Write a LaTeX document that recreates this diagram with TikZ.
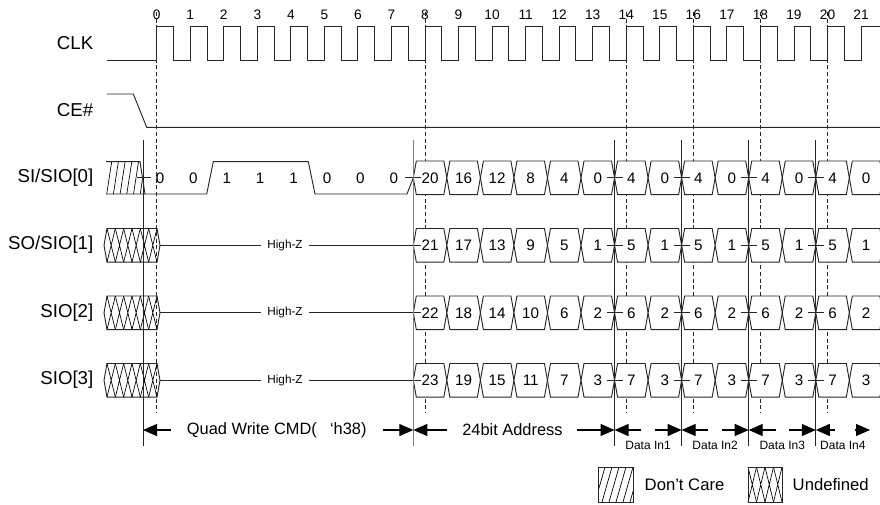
\documentclass[tikz,border=0pt]{standalone}
\usepackage{fontspec}
\setmainfont{Liberation Sans}
\usetikzlibrary{arrows.meta,calc}

\def\clkper{33.54}
\def\xzero{156.7}
\def\bzero{413.3}
\def\hh{16.8}

\tikzset{
 sig/.style={line width=0.7pt, black!85},
 edgeline/.style={line width=0.55pt, black!85, dash pattern=on 3pt off 2pt},
 bound/.style={line width=0.7pt, black!85},
 span/.style={line width=0.9pt, -{Triangle[length=10.5pt,width=9pt]}},
 lbl/.style={anchor=east, font=\fontsize{14}{16}\selectfont},
 clknum/.style={font=\fontsize{10.3}{12}\selectfont},
 cellnum/.style={font=\fontsize{11.4}{13}\selectfont},
 hiz/.style={font=\fontsize{8.8}{10}\selectfont, fill=white, inner xsep=5pt},
 note/.style={font=\fontsize{12.3}{14}\selectfont},
 small/.style={font=\fontsize{9}{10}\selectfont},
}

\newcommand{\buscell}[4]{% name, x0, ymid, label
\draw [sig, fill=white] (#2,#3) -- ++(3,-\hh) -- ++(27.54,0) -- ++(3,\hh) -- ++(-3,\hh) -- ++(-27.54,0) -- cycle;
\node [cellnum] (#1) at ($(#2,#3)+(16.77,0)$) {#4};
}

\begin{document}
\begin{tikzpicture}[x=0.75pt,y=-0.75pt]

\useasboundingbox (0,0) rectangle (880,504);
\clip (0,0) rectangle (880,504);

% clock edges
\foreach \k in {0,8,14,16,18,20}
{
\pgfmathsetmacro\ex{\xzero+\k*\clkper}
\draw [edgeline] (\ex,12) -- (\ex,413);
}
\foreach \k in {0,...,21}
{
\pgfmathsetmacro\ex{\xzero+\k*\clkper}
\node [clknum] (n\k) at (\ex,15) {\k};
}

\node [lbl] (clk) at (98,43) {CLK};
\node [lbl] (ce) at (98,110) {CE\#};
\node [lbl] (sio0) at (98,177.5) {SI/SIO[0]};
\node [lbl] (sio1) at (98,245) {SO/SIO[1]};
\node [lbl] (sio2) at (98,312.5) {SIO[2]};
\node [lbl] (sio3) at (98,380) {SIO[3]};

\draw [sig] (106.7,60.7) -- (\xzero,60.7)
\foreach \k in {0,...,20}
{ -- ({\xzero+\k*\clkper},26.7) -- ({\xzero+(\k+0.5)*\clkper},26.7) -- ({\xzero+(\k+0.5)*\clkper},60.7) -- ({\xzero+(\k+1)*\clkper},60.7) }
-- ({\xzero+21*\clkper},26.7) -- (880,26.7);

\draw [sig] (106.7,94) -- (133.3,94) -- (146.7,127.3) -- (880,127.3);

% SI: don't care, then command bits
\begin{scope}
\clip (106,161.7) -- (140,161.7) -- (145,194) -- (106,194) -- cycle;
\foreach \x in {100,106.7,...,150}
{
\draw [line width=0.5pt] (\x,194) -- (\x+5,161.7);
}
\end{scope}
\draw [sig] (106,161.7) -- (140,161.7) -- (145,194) -- (106,194);
\draw [sig] (145,194) -- (206.7,194) -- (213.3,161.7) -- (308.3,161.7) -- (315,194) -- (407,194) -- (413.3,177.8);
\draw [sig] (137,177.8) -- (151,177.8);
\foreach \bitv [count=\k from 0] in {0,0,1,1,1,0,0,0}
{
\pgfmathsetmacro\bx{160+\k*33.4}
\node [cellnum] (bit\k) at (\bx,177.8) {\bitv};
}

% SO, SIO2, SIO3: undefined, then High-Z
\foreach \r in {1,2,3}
{
\pgfmathsetmacro\ym{177.8+67.5*\r}
\pgfmathsetmacro\yt{\ym-\hh}
\pgfmathsetmacro\yb{\ym+\hh}
\draw [sig] (104,\ym) -- (107,\yt) -- (157,\yt) -- (160,\ym) -- (157,\yb) -- (107,\yb) -- cycle;
\foreach \x in {107,115.33,...,150}
{
\pgfmathsetmacro\xr{\x+8.33}
\draw [line width=0.5pt] (\x,\yt) -- (\xr,\yb) (\xr,\yt) -- (\x,\yb);
}
\draw [sig] (160,\ym) -- (\bzero,\ym);
\node [hiz] (hz\r) at (285,\ym) {High-Z};
}

% address and data cells
\foreach \r in {0,...,3}
{
\pgfmathsetmacro\ym{177.8+67.5*\r}
\foreach \j in {0,...,13}
{
\pgfmathsetmacro\cx{\bzero+\j*\clkper}
\pgfmathtruncatemacro\cval{\j<6 ? 20-4*\j+\r : mod(\j+1,2)*4+\r}
\buscell{c\r-\j}{\cx}{\ym}{\cval}
}
\foreach \j in {0,6,8,10,12}
{
\pgfmathsetmacro\tx{\bzero+\j*\clkper-8}
\draw [sig] (\tx,\ym) -- ++(16,0);
}
}

% phase boundaries
\draw [bound] (143,140) -- (143,446);
\draw [bound, gray] (\bzero,140) -- (\bzero,446);
\foreach \j in {6,8,10,12}
{
\pgfmathsetmacro\bx{\bzero+\j*\clkper}
\draw [bound] (\bx,140) -- (\bx,446);
}

\coordinate (s0) at (143,430);
\coordinate (s1) at (413.3,430);
\coordinate (s2) at (614.5,430);
\coordinate (s3) at (681.6,430);
\coordinate (s4) at (748.7,430);
\coordinate (s5) at (815.8,430);
\coordinate (s6) at (870,430);

\node [note, inner xsep=12pt] (cmd) at (276.7,430) {Quad Write CMD(\hspace{0.8em}\textquoteleft h38)};
\draw [span] (cmd.west) -- (s0);
\draw [span] (cmd.east) -- (s1);
\node [note, inner xsep=11pt] (addr) at (512.4,430) {24bit Address};
\draw [span] (addr.west) -- (s1);
\draw [span] (addr.east) -- (s2);

\foreach \pa/\pb/\dn in {s2/s3/1,s3/s4/2,s4/s5/3}
{
\draw [span] ($(\pa)!0.4!(\pb)$) -- (\pa);
\draw [span] ($(\pa)!0.6!(\pb)$) -- (\pb);
\node [small] (din\dn) at ($(\pa)!0.5!(\pb)+(0,15)$) {Data In\dn};
}
\draw [span] ($(s5)!0.35!(s6)$) -- (s5);
\draw [span] ($(s5)!0.72!(s6)$) -- (s6);
\node [small] (din4) at ($(s5)!0.5!(s6)+(0,15)$) {Data In4};

% legend
\begin{scope}
\clip (598,467) rectangle (633,502);
\foreach \x in {588,595,...,640}
{
\draw [line width=0.5pt] (\x,502) -- (\x+10,467);
}
\end{scope}
\draw [sig] (598,467) rectangle (633,502);
\node [anchor=west, font=\fontsize{12.5}{14}\selectfont] (dc) at (640,484.5) {Don't Care};

\foreach \x in {748,756.5,...,775}
{
\draw [line width=0.5pt] (\x,467) -- (\x+8.5,502) (\x+8.5,467) -- (\x,502);
}
\draw [sig] (748,467) rectangle (782,502);
\node [anchor=west, font=\fontsize{12.5}{14}\selectfont] (ud) at (788,484.5) {Undefined};

\end{tikzpicture}
\end{document}
